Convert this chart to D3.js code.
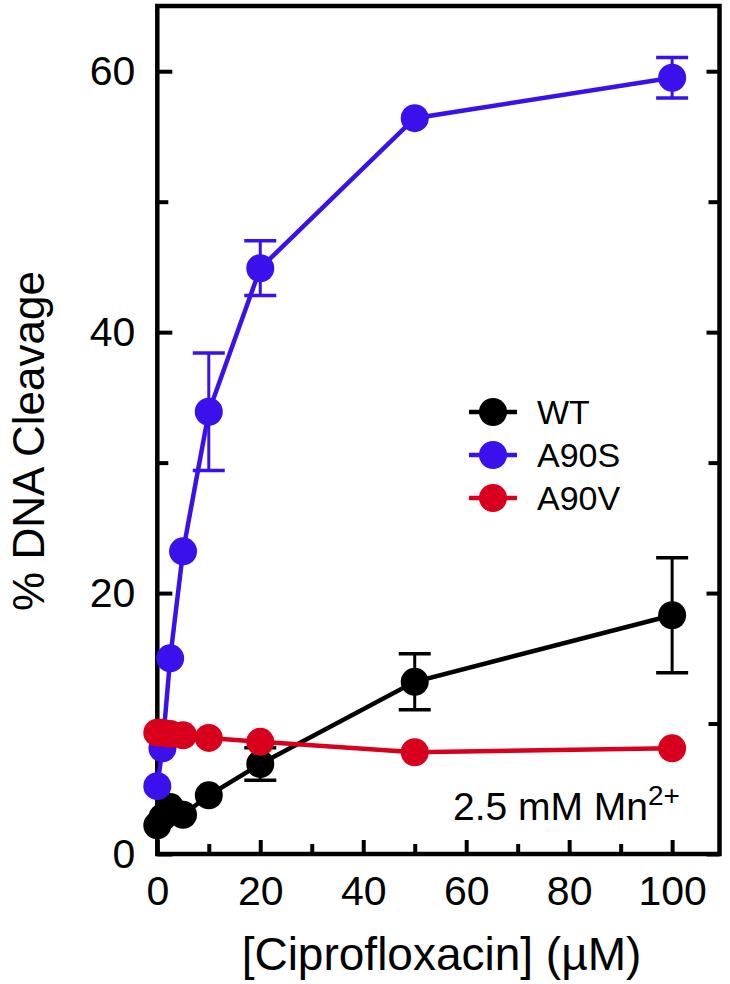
<!DOCTYPE html>
<html>
<head>
<meta charset="utf-8">
<script src="https://cdn.jsdelivr.net/npm/d3@7"></script>
<style>
  html, body { margin: 0; padding: 0; background: #fff; }
  svg { display: block; font-family: "Liberation Sans", Arial, Helvetica, sans-serif; }
</style>
</head>
<body>
<svg id="chart" width="730" height="984"></svg>
<script>
// ---- data ----
const concentrations = [0, 1, 2.5, 5, 10, 20, 50, 100];
const wtValues   = [2.2, 2.8, 3.6, 3.0, 4.5, 6.9, 13.2, 18.3];
const wtErrors   = [0, 0, 0, 0, 0, 1.25, 2.15, 4.4];
const a90sValues = [5.2, 8.1, 15.0, 23.2, 33.9, 44.9, 56.4, 59.5];
const a90sErrors = [0, 0, 0, 0, 4.5, 2.1, 0, 1.55];
const a90vValues = [9.3, 9.3, 9.2, 9.1, 8.9, 8.6, 7.8, 8.1];
const a90vErrors = [0, 0, 0, 0, 0, 0, 0, 0];
const seriesNames = ["WT", "A90S", "A90V"];
const xTicks = [0, 20, 40, 60, 80, 100];
const xMinorTicks = [10, 30, 50, 70, 90];
const yTicks = [0, 20, 40, 60];
const yMinorTicks = [10, 30, 50];
const xTitle = "[Ciprofloxacin] (µM)";
const yTitle = "% DNA Cleavage";

const colors = { "WT": "#000000", "A90S": "#3a10ec", "A90V": "#d8001c" };
const series = [
  { name: "WT", values: wtValues, errors: wtErrors },
  { name: "A90S", values: a90sValues, errors: a90sErrors },
  { name: "A90V", values: a90vValues, errors: a90vErrors }
];

const svg = d3.select("#chart");
const pLeft = 157.3, pRight = 719.5, pTop = 6, pBottom = 854;
const x = d3.scaleLinear().domain([0, 109.2]).range([pLeft, pRight]);
const y = d3.scaleLinear().domain([0, 65]).range([pBottom, pTop]);

svg.append("rect").attr("width", 730).attr("height", 984).attr("fill", "#fff");

const axisW = 4.5;
const tickFont = 41;

// bottom axis
const gx = svg.append("g").attr("transform", `translate(0,${pBottom})`)
  .call(d3.axisBottom(x).tickValues(xTicks).tickSize(-14).tickPadding(22).tickSizeOuter(0));
const gxm = svg.append("g").attr("transform", `translate(0,${pBottom})`)
  .call(d3.axisBottom(x).tickValues(xMinorTicks).tickSize(-10).tickFormat("").tickSizeOuter(0));
// left axis
const gy = svg.append("g").attr("transform", `translate(${pLeft},0)`)
  .call(d3.axisLeft(y).tickValues(yTicks).tickSize(-15).tickPadding(22).tickSizeOuter(0));
const gym = svg.append("g").attr("transform", `translate(${pLeft},0)`)
  .call(d3.axisLeft(y).tickValues(yMinorTicks).tickSize(-11).tickFormat("").tickSizeOuter(0));
// right axis
const gr = svg.append("g").attr("transform", `translate(${pRight},0)`)
  .call(d3.axisRight(y).tickValues(yTicks).tickSize(-13).tickFormat("").tickSizeOuter(0));
const grm = svg.append("g").attr("transform", `translate(${pRight},0)`)
  .call(d3.axisRight(y).tickValues(yMinorTicks).tickSize(-11).tickFormat("").tickSizeOuter(0));

[gx, gxm, gy, gym, gr, grm].forEach(g => {
  g.select(".domain").remove();
  g.selectAll(".tick line").attr("stroke", "#000").attr("stroke-width", 4);
  g.selectAll(".tick text").attr("font-size", tickFont).attr("fill", "#000")
    .attr("font-family", "Liberation Sans, Arial, sans-serif");
});

// frame
svg.append("path")
  .attr("d", `M${pLeft},${pTop} L${pRight},${pTop} L${pRight},${pBottom} L${pLeft},${pBottom} Z`)
  .attr("fill", "none").attr("stroke", "#000").attr("stroke-width", axisW)
  .attr("stroke-linejoin", "miter");

// series
const line = d3.line().x(d => x(d.x)).y(d => y(d.v));
series.forEach(s => {
  const pts = concentrations.map((c, i) => ({ x: c, v: s.values[i], e: s.errors[i] }));
  const g = svg.append("g");
  g.append("path").datum(pts).attr("d", line)
    .attr("fill", "none").attr("stroke", colors[s.name]).attr("stroke-width", 4.5);
  const eb = g.selectAll(".eb").data(pts.filter(p => p.e > 0)).enter().append("g");
  eb.append("line").attr("x1", d => x(d.x)).attr("x2", d => x(d.x))
    .attr("y1", d => y(d.v - d.e)).attr("y2", d => y(d.v + d.e))
    .attr("stroke", colors[s.name]).attr("stroke-width", 3);
  [-1, 1].forEach(sg => {
    eb.append("line").attr("x1", d => x(d.x) - 16).attr("x2", d => x(d.x) + 16)
      .attr("y1", d => y(d.v + sg * d.e)).attr("y2", d => y(d.v + sg * d.e))
      .attr("stroke", colors[s.name]).attr("stroke-width", 3.5);
  });
  g.selectAll("circle").data(pts).enter().append("circle")
    .attr("cx", d => x(d.x)).attr("cy", d => y(d.v)).attr("r", 14)
    .attr("fill", colors[s.name]);
});

// legend
const legY0 = 412, legStep = 43;
seriesNames.forEach((n, i) => {
  const ly = legY0 + i * legStep;
  svg.append("line").attr("x1", 469).attr("x2", 517).attr("y1", ly).attr("y2", ly)
    .attr("stroke", colors[n]).attr("stroke-width", 4.5);
  svg.append("circle").attr("cx", 493).attr("cy", ly).attr("r", 14).attr("fill", colors[n]);
  svg.append("text").attr("x", 537).attr("y", ly + 12).attr("font-size", 34)
    .attr("fill", "#000").text(n);
});

// annotation
const ann = svg.append("text").attr("x", 453).attr("y", 820).attr("font-size", 39).attr("fill", "#000");
ann.append("tspan").text("2.5 mM Mn");
ann.append("tspan").attr("dy", -15).attr("font-size", 28).text("2+");

// axis titles
svg.append("text").attr("x", 441.5).attr("y", 970).attr("text-anchor", "middle")
  .attr("font-size", 46).attr("fill", "#000").text(xTitle);
svg.append("text").attr("transform", "translate(44,441) rotate(-90)")
  .attr("text-anchor", "middle").attr("font-size", 44).attr("fill", "#000").text(yTitle);
</script>
</body>
</html>
